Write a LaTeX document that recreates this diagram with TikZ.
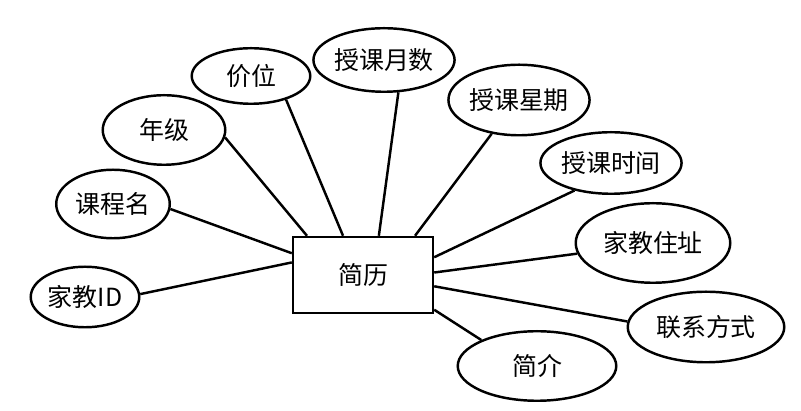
\documentclass[tikz,border=0pt]{standalone}
\usepackage{fontspec}
\setmainfont{Noto Sans CJK SC}
\usetikzlibrary{shapes.geometric}
\tikzset{
  every picture/.style={font=\fontsize{14.2}{16}\selectfont},
  shiti/.style={draw, line width=1.4pt, rectangle, minimum width=2.8cm, minimum height=1.52cm, inner sep=0pt},
  shuxing/.style={draw, line width=1.4pt, ellipse, inner sep=0pt},
  lianxian/.style={line width=1.4pt},
}
\begin{document}
\begin{tikzpicture}[x=0.02cm, y=-0.02cm]
  \useasboundingbox (0,0) rectangle (801,411);
  \node[shiti] (jianli) at (363,275) {简历};
  \foreach \n/\x/\y/\w/\h/\t/\a/\b in {
      id/85/297/111/63/家教ID/170/3,
      kcm/113/204/116/71/课程名/163/355,
      nj/164/130/125/72/年级/145/353,
      jw/251/76/121/58/价位/117/326,
      ys/384/60/138/66/授课月数/68/294,
      xq/519/100/131/73/授课星期/37/231,
      sj/611/163/136/64/授课时间/14/217,
      zz/653/243/157/82/家教住址/2/188,
      lx/706/327/159/73/联系方式/351/176,
      jj/537/366/161/72/简介/334/155} {
    \node[shuxing, minimum width=\w*0.02cm-1.4pt, minimum height=\h*0.02cm-1.4pt] (\n) at (\x,\y) {\t};
    \draw[lianxian] (jianli.\a) -- (\n.\b);
  }
\end{tikzpicture}
\end{document}
